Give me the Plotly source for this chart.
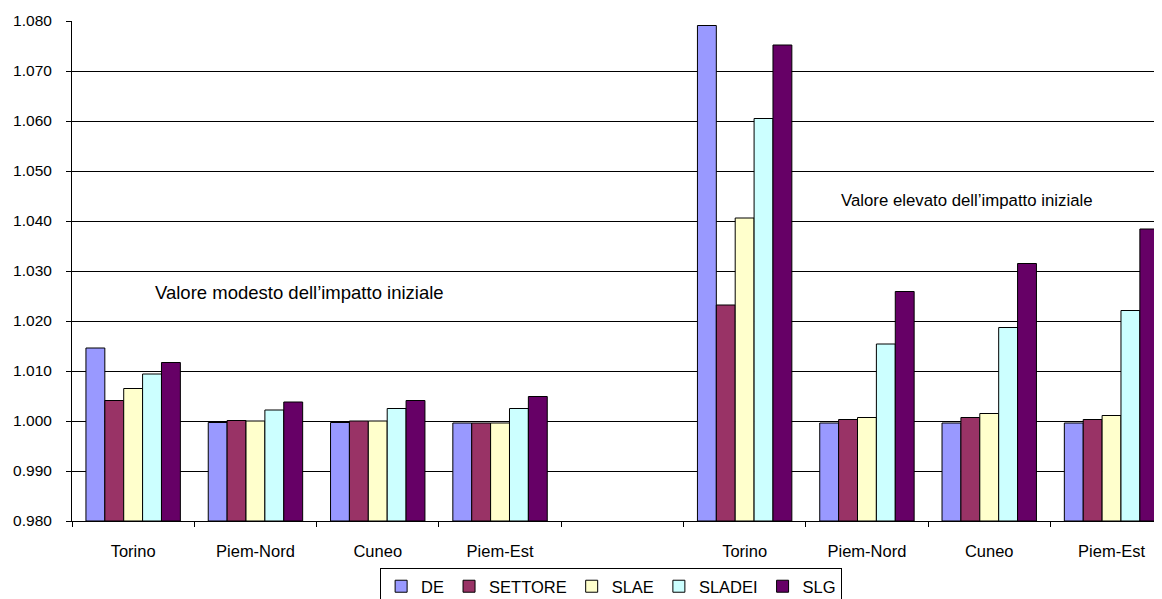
import plotly.graph_objects as go

# categories (blank slot separates the two scenarios)
categories = ["Torino", "Piem-Nord", "Cuneo", "Piem-Est", "",
              "Torino", "Piem-Nord", "Cuneo", "Piem-Est"]

de      = [1.0146, 0.9997, 0.9997, 0.9996, None, 1.0791, 0.9996, 0.9996, 0.9996]
settore = [1.0041, 1.0001, 1.0000, 0.9996, None, 1.0232, 1.0003, 1.0007, 1.0003]
slae    = [1.0065, 1.0000, 1.0000, 0.9996, None, 1.0406, 1.0007, 1.0015, 1.0011]
sladei  = [1.0094, 1.0022, 1.0025, 1.0025, None, 1.0605, 1.0154, 1.0187, 1.0221]
slg     = [1.0117, 1.0038, 1.0041, 1.0049, None, 1.0752, 1.0259, 1.0315, 1.0384]

series = [("DE", de, "#9999FF"), ("SETTORE", settore, "#993366"),
          ("SLAE", slae, "#FFFFCC"), ("SLADEI", sladei, "#CCFFFF"),
          ("SLG", slg, "#660066")]

x = list(range(len(categories)))
base = 0.98

fig = go.Figure()
for name, vals, col in series:
    fig.add_trace(go.Bar(
        x=x, y=[None if v is None else v - base for v in vals], base=base,
        name=name, marker=dict(color=col, line=dict(color="black", width=1)),
        customdata=vals, hovertemplate="%{customdata:.4f}<extra>" + name + "</extra>",
    ))

FONT = "Liberation Sans, Arial, sans-serif"

# page body adds an 8px offset, margins account for it
fig.update_layout(
    width=1162, height=599,
    margin=dict(l=64, r=0, t=13, b=86, autoexpand=False),
    paper_bgcolor="white", plot_bgcolor="white",
    barmode="group", bargap=0.228, bargroupgap=0,
    font=dict(family=FONT, color="black", size=16),
    showlegend=True,
    legend=dict(orientation="h", x=0.491, xanchor="center", y=-0.094, yanchor="top",
                bordercolor="black", borderwidth=1, font=dict(size=16.5),
                itemwidth=30, tracegroupgap=0),
    annotations=[
        dict(text="Valore modesto dell’impatto iniziale", x=1.364, y=1.0257,
             xref="x", yref="y", showarrow=False, font=dict(size=18.5)),
        dict(text="Valore elevato dell’impatto iniziale", x=6.822, y=1.0441,
             xref="x", yref="y", showarrow=False, font=dict(size=16.8)),
    ],
)

fig.update_xaxes(
    range=[-0.5, 8.478], tickmode="array", tickvals=x, ticktext=categories,
    ticks="", showgrid=False, zeroline=False, showline=True, linecolor="black",
    linewidth=1, ticklabelstandoff=15, tickfont=dict(size=16.5), automargin=False,
    minor=dict(tickmode="array", tickvals=[i - 0.5 for i in range(len(categories))],
               ticks="outside", ticklen=5, tickcolor="black", showgrid=False),
)
fig.update_yaxes(
    range=[0.98, 1.08], dtick=0.01, tick0=0.98, tickformat=".3f",
    ticks="outside", ticklen=5, tickcolor="black",
    showgrid=True, gridcolor="black", gridwidth=1, zeroline=False,
    showline=True, linecolor="black", linewidth=1, automargin=False,
    ticklabelstandoff=11, tickfont=dict(size=15.5),
)

fig.write_html("out.html")
